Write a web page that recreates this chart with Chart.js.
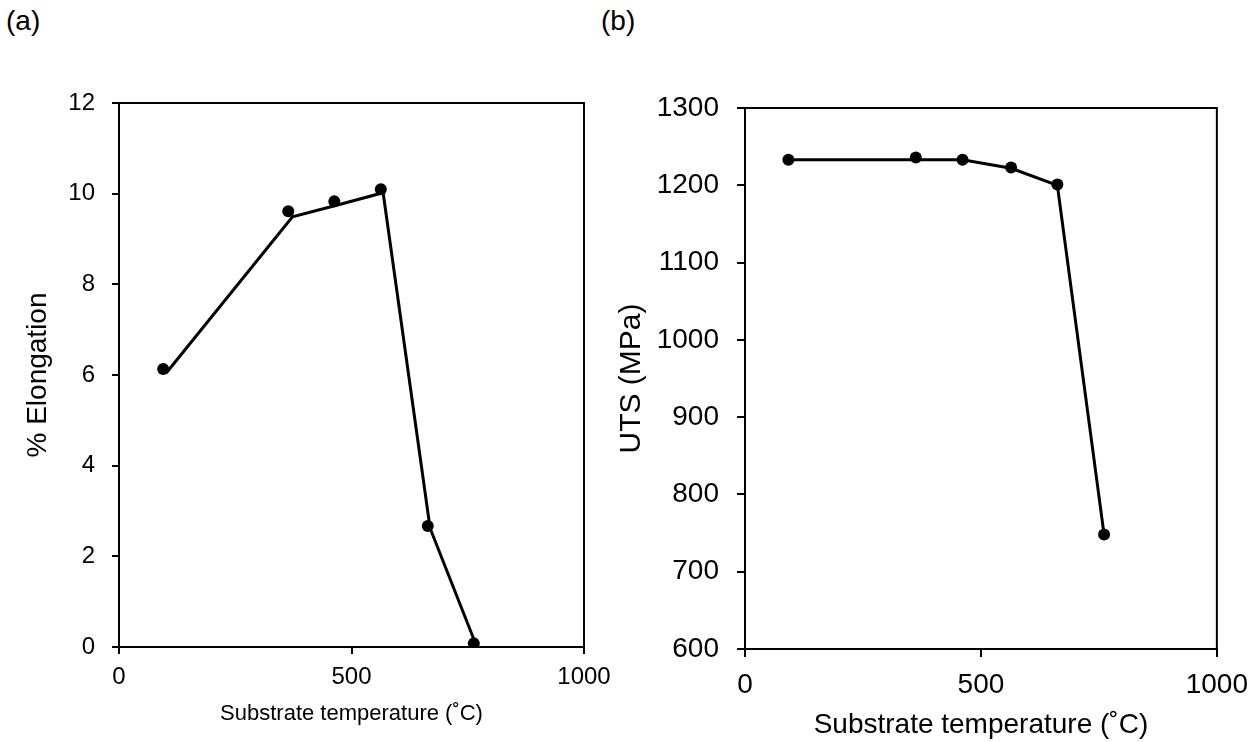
<!DOCTYPE html>
<html>
<head>
<meta charset="utf-8">
<script src="https://cdn.jsdelivr.net/npm/chart.js@4.4.1/dist/chart.umd.min.js"></script>
<style>
  html, body { margin: 0; padding: 0; background: #fff; }
  body { width: 1259px; height: 742px; position: relative; overflow: hidden; font-family: "Liberation Sans", Arial, sans-serif; }
  .panel { position: absolute; top: 0; height: 742px; }
  .lab { position: absolute; font-size: 28px; color: #000; line-height: 1; }
</style>
</head>
<body>
<div class="lab" style="left:6px; top:7px;">(a)</div>
<div class="lab" style="left:601px; top:7px;">(b)</div>
<div class="panel" style="left:0px; width:620px;"><canvas id="cA" width="620" height="742"></canvas></div>
<div class="panel" style="left:610px; width:649px;"><canvas id="cB" width="649" height="742"></canvas></div>
<script>
// ---- Data ----
// Panel (a): % Elongation vs substrate temperature
const tempA_points = [95, 364, 463, 563, 664, 763];
const elong_points = [6.13, 9.61, 9.83, 10.10, 2.67, 0.08];
const tempA_line = [102, 373, 466, 568, 669, 765];
const elong_line = [6.05, 9.49, 9.74, 10.02, 2.62, 0.12];

// Panel (b): UTS vs substrate temperature
const tempB_points = [92, 362, 461, 564, 662, 761];
const uts_points = [1233, 1236, 1233, 1223, 1201, 748];
const tempB_line = [92, 461, 564, 662, 761];
const uts_line = [1233, 1233, 1222, 1200, 748];

const xTicks = [0, 500, 1000];
const yTicksA = [0, 2, 4, 6, 8, 10, 12];
const yTicksB = [600, 700, 800, 900, 1000, 1100, 1200, 1300];

const xTitle = 'Substrate temperature (˚C)';
const yTitleA = '% Elongation';
const yTitleB = 'UTS (MPa)';

const FONT = '"Liberation Sans", Arial, sans-serif';

function pts(xs, ys) { return xs.map((x, i) => ({ x: x, y: ys[i] })); }

const boxPlugin = {
  id: 'box',
  afterDatasetsDraw(chart) {
    const a = chart.chartArea, ctx = chart.ctx;
    ctx.save();
    ctx.strokeStyle = '#000';
    ctx.lineWidth = 2;
    ctx.strokeRect(a.left, a.top, a.right - a.left, a.bottom - a.top);
    ctx.restore();
  }
};

function makeChart(id, cfg) {
  const fontTick = { family: FONT, size: cfg.tickSize };
  return new Chart(document.getElementById(id), {
    type: 'scatter',
    data: {
      datasets: [
        {
          data: pts(cfg.lineX, cfg.lineY),
          showLine: true,
          borderColor: '#000',
          borderWidth: 3,
          pointRadius: 0,
          fill: false,
          order: 2
        },
        {
          data: pts(cfg.ptX, cfg.ptY),
          showLine: false,
          backgroundColor: '#000',
          borderColor: '#000',
          pointRadius: 6,
          pointBorderWidth: 0,
          order: 1
        }
      ]
    },
    options: {
      responsive: false,
      animation: false,
      devicePixelRatio: 1,
      layout: { padding: { left: 0, right: cfg.padRight, top: cfg.padTop, bottom: 0 } },
      plugins: { legend: { display: false }, tooltip: { enabled: false } },
      scales: {
        x: {
          type: 'linear',
          min: xTicks[0], max: xTicks[xTicks.length - 1],
          afterBuildTicks(s) { s.ticks = xTicks.map(v => ({ value: v })); },
          afterFit(s) { s.height = cfg.xH; },
          ticks: { color: '#000', font: fontTick, padding: cfg.xTickPad, maxRotation: 0,
                   callback: v => String(v) },
          grid: { drawOnChartArea: false, drawTicks: true, tickLength: cfg.tickLen, color: '#000', lineWidth: 2 },
          border: { display: true, color: '#000', width: 2 },
          title: { display: true, text: xTitle, color: '#000', font: { family: FONT, size: cfg.xTitleSize },
                   padding: { top: 0, bottom: cfg.xTitlePad } }
        },
        y: {
          type: 'linear',
          min: cfg.yTicks[0], max: cfg.yTicks[cfg.yTicks.length - 1],
          afterBuildTicks(s) { s.ticks = cfg.yTicks.map(v => ({ value: v })); },
          afterFit(s) { s.width = cfg.yW; },
          ticks: { color: '#000', font: fontTick, padding: cfg.yTickPad, callback: v => String(v) },
          grid: { drawOnChartArea: false, drawTicks: true, tickLength: cfg.tickLen, color: '#000', lineWidth: 2 },
          border: { display: true, color: '#000', width: 2 },
          title: { display: true, text: cfg.yTitle, color: '#000', font: { family: FONT, size: cfg.yTitleSize },
                   padding: { top: cfg.yTitlePad, bottom: 0 } }
        }
      }
    },
    plugins: [boxPlugin]
  });
}

makeChart('cA', {
  lineX: tempA_line, lineY: elong_line, ptX: tempA_points, ptY: elong_points,
  yTicks: yTicksA, yTitle: yTitleA,
  tickSize: 24, xTitleSize: 22, yTitleSize: 28, tickLen: 7,
  padRight: 36, padTop: 103, xH: 95, yW: 119,
  xTickPad: 9, yTickPad: 17, xTitlePad: 15, yTitlePad: 21
});
makeChart('cB', {
  lineX: tempB_line, lineY: uts_line, ptX: tempB_points, ptY: uts_points,
  yTicks: yTicksB, yTitle: yTitleB,
  tickSize: 28, xTitleSize: 28, yTitleSize: 30, tickLen: 8,
  padRight: 42, padTop: 108, xH: 93, yW: 135,
  xTickPad: 11, yTickPad: 18, xTitlePad: 0, yTitlePad: 4
});
</script>
</body>
</html>
